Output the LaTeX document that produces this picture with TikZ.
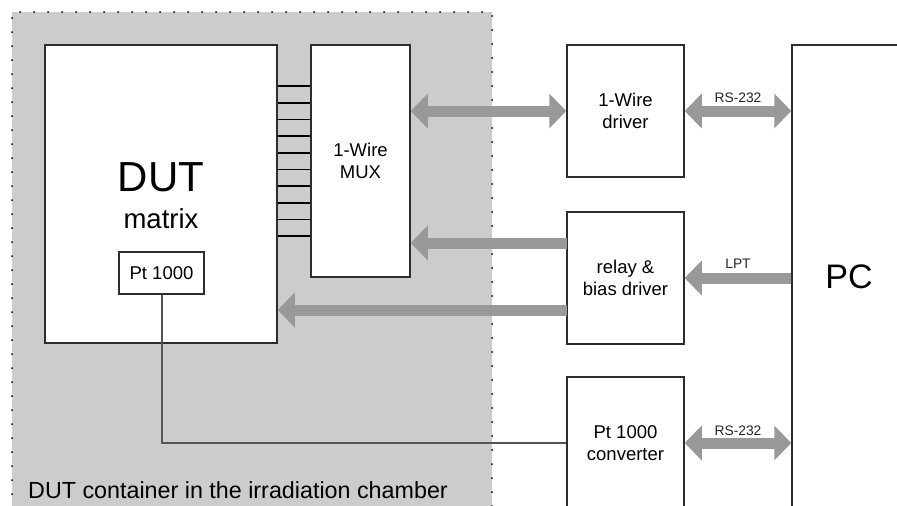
\documentclass[tikz,border=0pt]{standalone}
\usepackage{fontspec}
\setmainfont{Liberation Sans}
\usetikzlibrary{arrows.meta,calc}
\definecolor{chambergray}{RGB}{204,204,204}
\definecolor{arrowgray}{RGB}{153,153,153}
\definecolor{boxline}{RGB}{45,45,45}
\definecolor{wiregray}{RGB}{85,85,85}
\tikzset{
  box/.style={draw=boxline, line width=1.5pt, fill=white, inner sep=0pt, align=center,
    font=\fontsize{18.5}{22}\selectfont},
  bigarrow/.style={draw=arrowgray, line width=11pt,
    -{Triangle[width=34pt,length=17pt]}},
  bigdarrow/.style={draw=arrowgray, line width=11pt,
    {Triangle[width=34pt,length=17pt]}-{Triangle[width=34pt,length=17pt]}},
  buslabel/.style={font=\fontsize{13.8}{15}\selectfont, inner sep=0pt, text=black!85},
  busline/.style={draw=black, line width=1.7pt},
  dotborder/.style={draw=black, line width=2pt, line cap=round, dash pattern=on 0pt off 14pt},
  wire/.style={draw=wiregray, line width=2pt}
}
\begin{document}
\begin{tikzpicture}[x=1pt,y=-1pt]
\useasboundingbox (0,0) rectangle (897,506);
\clip (0,0) rectangle (897,506);
\fill[white] (0,0) rectangle (897,506);

% chamber
\node[fill=chambergray, minimum width=480pt, minimum height=510pt, anchor=north west, inner sep=0pt, outer sep=0pt] (chamber) at (12,12) {};
\draw[dotborder] (chamber.south west) -- (chamber.north west) -- (chamber.north east) -- (chamber.south east);
\node[anchor=base west, inner sep=0pt, font=\fontsize{23.3}{26}\selectfont] (chamberlabel) at (28,498) {DUT container in the irradiation chamber};

% boxes
\node[box, minimum width=232pt, minimum height=298pt] (dut) at (161,194) {};
\node[anchor=base, inner sep=0pt, font=\fontsize{42}{46}\selectfont] (duttext) at (161,191) {DUT};
\node[anchor=base, inner sep=0pt, font=\fontsize{27.5}{30}\selectfont] (mattext) at (161,228) {matrix};
\node[box, minimum width=85pt, minimum height=42pt] (pt) at (161.5,273) {Pt 1000};

\node[box, minimum width=99pt, minimum height=232pt] (mux) at (360.5,161) {1-Wire\\MUX};
\node[box, minimum width=117pt, minimum height=132pt] (drv) at (625.5,111) {1-Wire\\driver};
\node[box, minimum width=117pt, minimum height=132pt] (rel) at (625.5,278) {relay \&\\bias driver};
\node[box, minimum width=117pt, minimum height=132pt] (conv) at (625.5,443) {Pt 1000\\converter};
\node[box, minimum width=114pt, minimum height=462pt] (pc) at (849,276) {};
\node[anchor=base, inner sep=0pt, font=\fontsize{34}{38}\selectfont] (pctext) at (849,288) {PC};

% bus lines between DUT and MUX
\foreach \yy in {86,102.7,119.4,136.1,152.8,169.5,186.2,202.9,219.6,236.3}
  \draw[busline] (dut.east |- 0,\yy) -- (mux.west |- 0,\yy);

% connectors
\coordinate (r1) at (567,243);
\coordinate (r2) at (567,310);
\draw[bigdarrow] (drv.west -| mux.east) -- (drv.west);
\draw[bigdarrow] (drv.east) -- (drv.east -| pc.west);
\draw[bigarrow] (r1) -- (r1 -| mux.east);
\draw[bigarrow] (r2) -- (r2 -| dut.east);
\draw[bigarrow] (rel.east -| pc.west) -- (rel.east);
\draw[bigdarrow] (conv.east) -- (conv.east -| pc.west);
\draw[wire] (pt.south) |- (conv.west);

% labels
\node[buslabel] (rs1) at (738,98) {RS-232};
\node[buslabel] (lpt) at (738,264) {LPT};
\node[buslabel] (rs2) at (738,431) {RS-232};
\end{tikzpicture}
\end{document}
